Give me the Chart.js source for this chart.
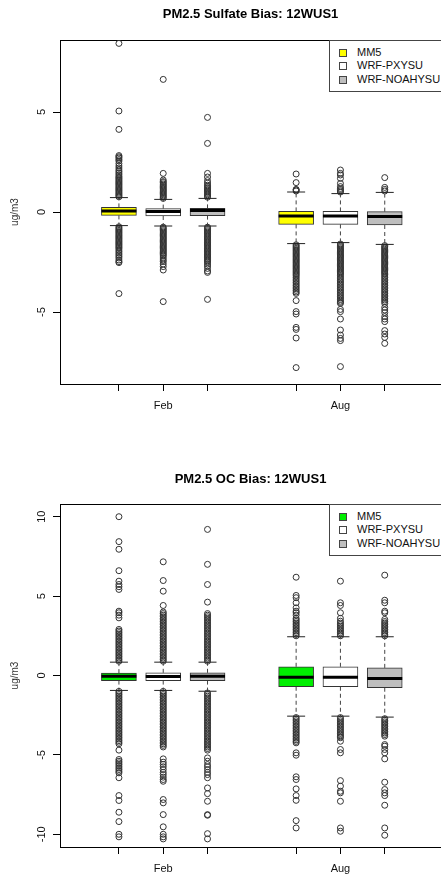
<!DOCTYPE html>
<html>
<head>
<meta charset="utf-8">
<script src="https://cdn.jsdelivr.net/npm/chart.js@4.4.0/dist/chart.umd.min.js"></script>
<style>
  html, body { margin: 0; padding: 0; background: #fff; overflow: hidden; }
  #wrap { position: relative; width: 441px; height: 874px; overflow: hidden; }
  canvas { position: absolute; left: 0; }
  .legend { position: absolute; left: 329px; width: 130px; height: 52px; box-sizing: border-box;
            border: 1px solid #444; background: #fff; padding-top: 5px;
            font: 11px "Liberation Sans", Arial, sans-serif; color: #111; }
  .legend .row { position: relative; height: 13.3px; line-height: 13px; padding-left: 27px; white-space: nowrap; }
  .legend .sw { position: absolute; left: 9px; top: 3px; width: 6px; height: 6px; border: 1px solid #444; }
</style>
</head>
<body>
<div id="wrap">
  <canvas id="sulf" width="441" height="437" style="top:0"></canvas>
  <canvas id="oc" width="441" height="437" style="top:437px"></canvas>
  <div class="legend" id="sulf-legend" style="top:40px"></div>
  <div class="legend" id="oc-legend" style="top:504px"></div>
</div>
<script>
// PM2.5 bias boxplots (Feb / Aug, three model runs), 12WUS1 domain

const MONTHS = ['Feb', 'Aug'];
const MODELS = ['MM5', 'WRF-PXYSU', 'WRF-NOAHYSU'];

// box order: Feb MM5, Feb PX, Feb NOAH, Aug MM5, Aug PX, Aug NOAH
const SULF_LO  = [-0.68, -0.70, -0.70, -1.58, -1.53, -1.62];
const SULF_Q1  = [-0.17, -0.20, -0.18, -0.62, -0.62, -0.65];
const SULF_MED = [0.05, 0.03, 0.07, -0.20, -0.20, -0.23];
const SULF_Q3  = [0.23, 0.17, 0.18, 0.03, 0.03, 0.02];
const SULF_HI  = [0.72, 0.63, 0.68, 1.00, 0.92, 0.98];

const SULF_OUT_FEB_MM5 = [0.76, 0.82, 0.88, 0.94, 1.0, 1.06, 1.12, 1.18, 1.24, 1.3, 1.36, 1.42, 1.48, 1.54, 1.6, 1.66, 1.72, 1.78, 1.86, 1.94, 2.02, 2.1, 2.2, 2.3, 2.42, 2.55, 2.62, 2.7, 2.76, 2.82, 4.13, 5.05, 8.43,
  -0.74, -0.8, -0.86, -0.92, -0.98, -1.04, -1.1, -1.16, -1.22, -1.28, -1.34, -1.4, -1.46, -1.52, -1.58, -1.64, -1.7, -1.76, -1.82, -1.9, -1.98, -2.06, -2.14, -2.22, -2.3, -2.4, -2.48, -2.53, -4.08];
const SULF_OUT_FEB_PX = [0.68, 0.74, 0.8, 0.86, 0.92, 0.98, 1.04, 1.1, 1.16, 1.22, 1.28, 1.34, 1.4, 1.47, 1.52, 1.6, 1.93, 6.63,
  -0.76, -0.82, -0.88, -0.94, -1.0, -1.06, -1.12, -1.18, -1.24, -1.3, -1.36, -1.42, -1.48, -1.54, -1.6, -1.66, -1.72, -1.78, -1.84, -1.9, -1.96, -2.02, -2.08, -2.14, -2.2, -2.3, -2.4, -2.48, -2.6, -2.73, -2.9, -4.48];
const SULF_OUT_FEB_NOAH = [0.74, 0.8, 0.86, 0.92, 0.98, 1.04, 1.1, 1.16, 1.22, 1.28, 1.34, 1.45, 1.57, 1.75, 1.93, 3.43, 4.73,
  -0.76, -0.82, -0.88, -0.94, -1.0, -1.06, -1.12, -1.18, -1.24, -1.3, -1.36, -1.42, -1.48, -1.54, -1.6, -1.66, -1.72, -1.78, -1.84, -1.9, -1.96, -2.02, -2.08, -2.14, -2.2, -2.26, -2.32, -2.38, -2.44, -2.5, -2.6, -2.7, -2.82, -2.95, -3.02, -4.37];
const SULF_OUT_AUG_MM5 = [1.05, 1.1, 1.13, 1.47, 1.9,
  -1.64, -1.7, -1.76, -1.82, -1.88, -1.94, -2.0, -2.06, -2.12, -2.18, -2.24, -2.3, -2.36, -2.42, -2.48, -2.54, -2.6, -2.66, -2.72, -2.78, -2.84, -2.9, -2.96, -3.02, -3.08, -3.14, -3.2, -3.28, -3.36, -3.44, -3.52, -3.6, -3.68, -3.76, -3.84, -3.92, -4.0, -4.07, -4.43, -4.98, -5.1, -5.77, -5.87, -6.3, -7.78];
const SULF_OUT_AUG_PX = [1.0, 1.06, 1.12, 1.18, 1.27, 1.43, 1.68, 1.85, 1.93, 2.1,
  -1.6, -1.66, -1.72, -1.78, -1.84, -1.9, -1.96, -2.02, -2.08, -2.14, -2.2, -2.26, -2.32, -2.38, -2.44, -2.5, -2.56, -2.62, -2.68, -2.74, -2.8, -2.86, -2.92, -2.98, -3.04, -3.1, -3.18, -3.26, -3.34, -3.42, -3.5, -3.58, -3.66, -3.74, -3.82, -3.9, -3.98, -4.06, -4.14, -4.22, -4.3, -4.38, -4.46, -4.52, -4.57, -4.87, -4.98, -5.35, -5.9, -6.15, -6.32, -6.43, -7.73];
const SULF_OUT_AUG_NOAH = [1.05, 1.13, 1.23, 1.72,
  -1.68, -1.74, -1.8, -1.86, -1.92, -1.98, -2.04, -2.1, -2.16, -2.22, -2.28, -2.34, -2.4, -2.46, -2.52, -2.58, -2.64, -2.7, -2.76, -2.82, -2.88, -2.94, -3.0, -3.06, -3.12, -3.2, -3.28, -3.36, -3.44, -3.52, -3.6, -3.68, -3.76, -3.84, -3.92, -4.0, -4.08, -4.16, -4.24, -4.32, -4.4, -4.48, -4.57, -4.77, -4.9, -5.03, -5.23, -5.35, -5.48, -5.93, -6.1, -6.27, -6.57];

const OC_LO  = [-0.94, -0.94, -0.99, -2.56, -2.56, -2.62];
const OC_Q1  = [-0.32, -0.32, -0.32, -0.71, -0.71, -0.77];
const OC_MED = [-0.04, -0.06, -0.04, -0.11, -0.11, -0.19];
const OC_Q3  = [0.15, 0.17, 0.17, 0.55, 0.55, 0.48];
const OC_HI  = [0.84, 0.84, 0.84, 2.44, 2.44, 2.44];

const OC_OUT_FEB_MM5 = [0.9, 1.0, 1.1, 1.2, 1.3, 1.4, 1.5, 1.6, 1.7, 1.8, 1.9, 2.0, 2.1, 2.2, 2.3, 2.4, 2.5, 2.6, 2.7, 2.8, 2.9, 3.63, 3.8, 3.95, 4.05, 5.42, 5.59, 5.73, 5.94, 6.6, 7.95, 8.43, 10.0,
  -1.0, -1.1, -1.2, -1.3, -1.4, -1.5, -1.6, -1.7, -1.8, -1.9, -2.0, -2.1, -2.2, -2.3, -2.4, -2.5, -2.6, -2.7, -2.8, -2.9, -3.0, -3.1, -3.2, -3.3, -3.4, -3.5, -3.6, -3.7, -3.8, -3.9, -4.0, -4.1, -4.2, -4.3,
  -4.7, -5.29, -5.4, -5.5, -5.6, -5.71, -5.82, -5.92, -6.03, -6.13, -6.44, -7.56, -7.87, -8.61, -9.2, -10.0, -10.16];
const OC_OUT_FEB_PX = [0.9, 1.0, 1.1, 1.2, 1.3, 1.4, 1.5, 1.6, 1.7, 1.8, 1.9, 2.0, 2.1, 2.2, 2.3, 2.4, 2.5, 2.6, 2.7, 2.8, 2.9, 3.0, 3.1, 3.2, 3.3, 3.4, 3.5, 3.6, 3.7, 3.8, 3.9, 4.0, 4.41, 5.31, 5.98, 7.16,
  -1.0, -1.1, -1.2, -1.3, -1.4, -1.5, -1.6, -1.7, -1.8, -1.9, -2.0, -2.1, -2.2, -2.3, -2.4, -2.5, -2.6, -2.7, -2.8, -2.9, -3.0, -3.1, -3.2, -3.3, -3.4, -3.5, -3.6, -3.7, -3.8, -3.9, -4.0, -4.1, -4.2, -4.3, -4.4, -4.5,
  -5.25, -5.46, -5.6, -5.75, -5.92, -6.1, -6.24, -6.4, -6.55, -6.66, -7.81, -8.02, -8.76, -9.53, -10.0, -10.16, -10.29];
const OC_OUT_FEB_NOAH = [0.9, 1.0, 1.1, 1.2, 1.3, 1.4, 1.5, 1.6, 1.7, 1.8, 1.9, 2.0, 2.1, 2.2, 2.3, 2.4, 2.5, 2.6, 2.7, 2.8, 2.9, 3.0, 3.1, 3.2, 3.3, 3.4, 3.5, 3.6, 3.7, 3.8, 3.9, 4.62, 5.73, 7.0, 9.2,
  -1.1, -1.2, -1.3, -1.4, -1.5, -1.6, -1.7, -1.8, -1.9, -2.0, -2.1, -2.2, -2.3, -2.4, -2.5, -2.6, -2.7, -2.8, -2.9, -3.0, -3.1, -3.2, -3.3, -3.4, -3.5, -3.6, -3.7, -3.8, -3.9, -4.0, -4.1, -4.2, -4.3, -4.4, -4.5, -4.6, -4.7,
  -5.19, -5.4, -5.61, -5.75, -5.92, -6.1, -6.24, -6.44, -7.08, -7.44, -7.92, -8.76, -8.8, -9.96, -10.29];
const OC_OUT_AUG_MM5 = [2.5, 2.6, 2.7, 2.8, 2.9, 3.0, 3.1, 3.2, 3.3, 3.4, 3.5, 3.6, 3.8, 3.95, 4.05, 4.26, 4.58, 4.9, 5.04, 6.19,
  -2.65, -2.75, -2.85, -2.95, -3.05, -3.15, -3.25, -3.35, -3.45, -3.55, -3.65, -3.75, -3.85, -3.95, -4.05, -4.15, -4.24,
  -4.87, -5.02, -6.38, -6.55, -7.14, -7.56, -7.86, -9.14, -9.6];
const OC_OUT_AUG_PX = [2.5, 2.6, 2.7, 2.8, 2.9, 3.0, 3.1, 3.2, 3.3, 3.42, 3.6, 3.95, 4.41, 4.58, 5.94,
  -2.65, -2.75, -2.85, -2.95, -3.05, -3.15, -3.25, -3.35, -3.45, -3.55, -3.65, -3.75, -3.85, -3.92,
  -4.14, -4.66, -4.87, -6.62, -6.97, -7.29, -7.39, -7.92, -9.6, -9.81];
const OC_OUT_AUG_NOAH = [2.5, 2.6, 2.7, 2.8, 2.9, 3.0, 3.1, 3.2, 3.3, 3.4, 3.53, 3.95, 4.05, 4.58, 4.74, 6.32,
  -2.72, -2.82, -2.92, -3.02, -3.12, -3.22, -3.32, -3.42, -3.52, -3.62, -3.72, -3.82,
  -4.35, -4.45, -4.66, -4.87, -5.25, -6.72, -7.18, -7.39, -7.56, -8.17, -9.6, -10.06];

const SULF_TICKS = [-5, 0, 5];
const OC_TICKS = [-10, -5, 0, 5, 10];

const FONT = '"Liberation Sans", Arial, sans-serif';
Chart.defaults.font.family = FONT;
Chart.defaults.color = '#000';

// x position of box i: groups of three, one empty slot between months
function boxX(i) {
  return Math.floor(i / 3) * 4 + (i % 3) + 1;
}

// plot frame (R draws a full box around the plot region)
const framePlugin = {
  id: 'frame',
  beforeDatasetsDraw(chart) {
    const { ctx, chartArea: a } = chart;
    ctx.save();
    ctx.strokeStyle = '#000';
    ctx.lineWidth = 1;
    ctx.strokeRect(Math.round(a.left) + 0.5, Math.round(a.top) + 0.5, a.right - a.left + 2, Math.round(a.bottom - a.top));
    ctx.restore();
  }
};

function boxDatasets(p) {
  const xs = p.med.map((_, i) => boxX(i));
  return [
    { // medians
      type: 'scatter',
      data: xs.map((x, i) => ({ x, y: p.med[i] })),
      pointStyle: 'line', pointRadius: 17.5, pointHoverRadius: 17.5,
      pointBorderWidth: 3, pointBorderColor: '#000', borderColor: '#000'
    },
    { // whisker staples
      type: 'scatter',
      data: xs.flatMap((x, i) => [{ x, y: p.lo[i] }, { x, y: p.hi[i] }]),
      pointStyle: 'line', pointRadius: 9, pointHoverRadius: 9,
      pointBorderWidth: 1, pointBorderColor: '#222', borderColor: '#222'
    },
    { // boxes
      type: 'bar',
      data: xs.map((x, i) => ({ x, y: [p.q1[i], p.q3[i]] })),
      backgroundColor: xs.map((_, i) => p.fills[i % 3]),
      borderColor: '#333', borderWidth: 1, borderSkipped: false,
      barThickness: 35
    },
    { // dashed whiskers
      type: 'line',
      data: xs.flatMap((x, i) => [
        { x, y: p.q3[i] }, { x, y: p.hi[i] }, { x, y: null },
        { x, y: p.q1[i] }, { x, y: p.lo[i] }, { x, y: null }
      ]),
      borderColor: '#444', borderWidth: 1, borderDash: [4, 3],
      pointRadius: 0, spanGaps: false, fill: false
    },
    { // outliers
      type: 'scatter',
      data: xs.flatMap((x, i) => p.out[i].map(y => ({ x, y }))),
      pointStyle: 'circle', pointRadius: 3, pointHoverRadius: 3,
      pointBorderWidth: 1, pointBorderColor: '#333',
      pointBackgroundColor: 'rgba(0,0,0,0)', backgroundColor: 'rgba(0,0,0,0)'
    }
  ];
}

function renderPanel(canvasId, p) {
  const ctx = document.getElementById(canvasId);
  new Chart(ctx.getContext('2d'), {
    type: 'bar',
    data: { datasets: boxDatasets(p) },
    plugins: [framePlugin],
    options: {
      responsive: false,
      animation: false,
      events: [],
      layout: { padding: 0, autoPadding: false },
      plugins: {
        legend: { display: false },
        tooltip: { enabled: false },
        title: {
          display: true, text: p.title, fullSize: false,
          font: { size: 13, weight: 'bold' }, color: '#000',
          padding: { top: p.titleTop, bottom: p.titleBottom }
        }
      },
      scales: {
        x: {
          type: 'linear', min: -0.33, max: 8.27, offset: false,
          afterBuildTicks: s => { s.ticks = p.med.map((_, i) => ({ value: boxX(i) })); },
          afterFit: s => { s.height = p.xAxisH; },
          ticks: {
            autoSkip: false, maxRotation: 0, padding: 8,
            font: { size: 11 }, color: '#111',
            callback: v => (v % 4 === 2 ? MONTHS[Math.floor(v / 4)] : '')
          },
          grid: { drawOnChartArea: false, offset: false, tickLength: 7, color: '#000' },
          border: { display: false }
        },
        y: {
          min: -p.yMax, max: p.yMax,
          afterBuildTicks: s => { s.ticks = p.ticks.map(v => ({ value: v })); },
          afterFit: s => { s.width = 60; },
          ticks: {
            minRotation: 90, maxRotation: 90, crossAlign: 'center',
            padding: p.yTickPad, font: { size: 11 }, color: '#111'
          },
          grid: { drawOnChartArea: false, tickLength: 7, color: '#000' },
          border: { display: false },
          title: {
            display: true, text: 'ug/m3', color: '#333',
            font: { size: 10 }, padding: { top: 9, bottom: 0 }
          }
        }
      }
    }
  });
}

function renderLegend(elId, fills) {
  document.getElementById(elId).innerHTML = MODELS.map((m, k) =>
    `<div class="row"><span class="sw" style="background:${fills[k]}"></span>${m}</div>`
  ).join('');
}

const SULF_FILLS = ['#ffff00', '#ffffff', '#bebebe'];
const OC_FILLS = ['#00ee00', '#ffffff', '#bebebe'];

renderPanel('sulf', {
  title: 'PM2.5 Sulfate Bias: 12WUS1',
  lo: SULF_LO, q1: SULF_Q1, med: SULF_MED, q3: SULF_Q3, hi: SULF_HI,
  out: [SULF_OUT_FEB_MM5, SULF_OUT_FEB_PX, SULF_OUT_FEB_NOAH, SULF_OUT_AUG_MM5, SULF_OUT_AUG_PX, SULF_OUT_AUG_NOAH],
  fills: SULF_FILLS, ticks: SULF_TICKS, yMax: 8.6,
  titleTop: 7, titleBottom: 17.4, xAxisH: 53, yTickPad: 6
});
renderPanel('oc', {
  title: 'PM2.5 OC Bias: 12WUS1',
  lo: OC_LO, q1: OC_Q1, med: OC_MED, q3: OC_Q3, hi: OC_HI,
  out: [OC_OUT_FEB_MM5, OC_OUT_FEB_PX, OC_OUT_FEB_NOAH, OC_OUT_AUG_MM5, OC_OUT_AUG_PX, OC_OUT_AUG_NOAH],
  fills: OC_FILLS, ticks: OC_TICKS, yMax: 10.8,
  titleTop: 34.2, titleBottom: 17.2, xAxisH: 27, yTickPad: 3
});
renderLegend('sulf-legend', SULF_FILLS);
renderLegend('oc-legend', OC_FILLS);
</script>
</body>
</html>
